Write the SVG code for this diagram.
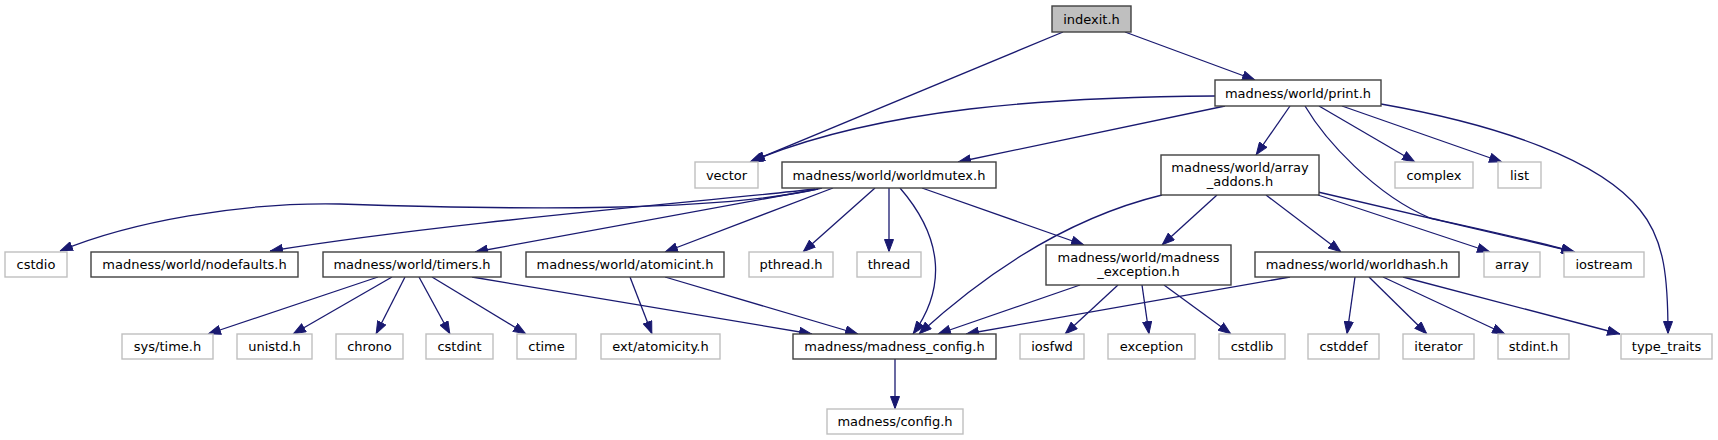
<svg xmlns="http://www.w3.org/2000/svg" width="1718" height="440" viewBox="0 0 1718 440">
<style>
.n rect{fill:#fff;stroke:#404040;stroke-width:1.4}
.g rect{fill:#fff;stroke:#bfbfbf;stroke-width:1.4}
.r rect{fill:#bfbfbf;stroke:#404040;stroke-width:1.4}
text{font-family:"DejaVu Sans","Liberation Sans",sans-serif;font-size:13px;fill:#000;text-anchor:middle}
#edges path{fill:none;stroke:#191970;stroke-width:1.3;marker-end:url(#a)}
</style>
<defs>
<marker id="a" viewBox="0 0 13 10" refX="13" refY="5" markerWidth="13" markerHeight="10" markerUnits="userSpaceOnUse" orient="auto">
<path d="M0.5,0.5 L12.5,5 L0.5,9.5 z" fill="#191970" stroke="#191970" stroke-width="1"/>
</marker>
</defs>
<rect width="1718" height="440" fill="#fff"/>
<g id="edges">
<path d="M1125,32 L1255,80"/>
<path d="M1063,32 L750,162"/>
<path d="M1215,96 C1050,97 880,108 752,161"/>
<path d="M1225,106 L958,162"/>
<path d="M1290,106 L1256,155"/>
<path d="M1305,106 C1325,140 1375,195 1430,218 C1480,229 1540,242 1574,252"/>
<path d="M1319,106 L1415,162"/>
<path d="M1342,106 L1502,162"/>
<path d="M1381,104 C1500,125 1600,160 1640,210 C1665,240 1668,280 1668,334"/>
<path d="M822,188 C720,212 520,210 340,204 C240,202 130,222 60,251"/>
<path d="M815,189 C700,202 450,222 270,251"/>
<path d="M818,189 L475,252"/>
<path d="M833,188 L665,252"/>
<path d="M875,188 L803,252"/>
<path d="M889,188 L889,252"/>
<path d="M900,188 C945,240 945,290 913,334"/>
<path d="M922,188 L1084,245"/>
<path d="M1162,195 C1080,215 1000,260 919,334"/>
<path d="M1217,195 L1162,245"/>
<path d="M1266,195 L1341,252"/>
<path d="M1318,195 L1490,252"/>
<path d="M1318,192 L1575,252"/>
<path d="M378,277 L208,334"/>
<path d="M392,277 L293,334"/>
<path d="M405,277 L376,334"/>
<path d="M419,277 L450,334"/>
<path d="M432,277 L526,334"/>
<path d="M472,277 L812,334"/>
<path d="M630,277 L652,334"/>
<path d="M665,277 L858,334"/>
<path d="M1080,285 L938,334"/>
<path d="M1118,285 L1065,334"/>
<path d="M1142,285 L1149,334"/>
<path d="M1164,285 L1231,334"/>
<path d="M1290,277 L966,334"/>
<path d="M1355,277 L1347,334"/>
<path d="M1369,277 L1427,334"/>
<path d="M1383,277 L1505,334"/>
<path d="M1403,277 L1620,334"/>
<path d="M895,359 L895,409"/>
</g>
<g id="indexit" class="r"><rect x="1052" y="6" width="79" height="26"/><text x="1091.5" y="23.5">indexit.h</text></g>
<g id="print" class="n"><rect x="1215" y="80" width="166" height="26"/><text x="1298" y="97.5">madness/world/print.h</text></g>
<g id="vector" class="g"><rect x="695" y="162" width="63" height="26"/><text x="726.5" y="179.5">vector</text></g>
<g id="worldmutex" class="n"><rect x="782" y="162" width="214" height="26"/><text x="889" y="179.5">madness/world/worldmutex.h</text></g>
<g id="array_addons" class="n"><rect x="1161" y="155" width="158" height="40"/><text x="1240" y="171.5">madness/world/array</text><text x="1240" y="185.5">_addons.h</text></g>
<g id="complex" class="g"><rect x="1395" y="162" width="78" height="26"/><text x="1434" y="179.5">complex</text></g>
<g id="list" class="g"><rect x="1498" y="162" width="43" height="26"/><text x="1519.5" y="179.5">list</text></g>
<g id="cstdio" class="g"><rect x="5" y="252" width="62" height="25"/><text x="36" y="269">cstdio</text></g>
<g id="nodefaults" class="n"><rect x="91" y="252" width="207" height="25"/><text x="194.5" y="269">madness/world/nodefaults.h</text></g>
<g id="timers" class="n"><rect x="323" y="252" width="178" height="25"/><text x="412" y="269">madness/world/timers.h</text></g>
<g id="atomicint" class="n"><rect x="526" y="252" width="198" height="25"/><text x="625" y="269">madness/world/atomicint.h</text></g>
<g id="pthread" class="g"><rect x="749" y="252" width="84" height="25"/><text x="791" y="269">pthread.h</text></g>
<g id="thread" class="g"><rect x="857" y="252" width="64" height="25"/><text x="889" y="269">thread</text></g>
<g id="madness_exception" class="n"><rect x="1046" y="245" width="185" height="40"/><text x="1138.5" y="261.5">madness/world/madness</text><text x="1138.5" y="275.5">_exception.h</text></g>
<g id="worldhash" class="n"><rect x="1255" y="252" width="204" height="25"/><text x="1357" y="269">madness/world/worldhash.h</text></g>
<g id="array" class="g"><rect x="1484" y="252" width="56" height="25"/><text x="1512" y="269">array</text></g>
<g id="iostream" class="g"><rect x="1564" y="252" width="80" height="25"/><text x="1604" y="269">iostream</text></g>
<g id="systime" class="g"><rect x="122" y="334" width="91" height="25"/><text x="167.5" y="351">sys/time.h</text></g>
<g id="unistd" class="g"><rect x="237" y="334" width="75" height="25"/><text x="274.5" y="351">unistd.h</text></g>
<g id="chrono" class="g"><rect x="336" y="334" width="67" height="25"/><text x="369.5" y="351">chrono</text></g>
<g id="cstdint" class="g"><rect x="426" y="334" width="67" height="25"/><text x="459.5" y="351">cstdint</text></g>
<g id="ctime" class="g"><rect x="517" y="334" width="59" height="25"/><text x="546.5" y="351">ctime</text></g>
<g id="atomicity" class="g"><rect x="601" y="334" width="119" height="25"/><text x="660.5" y="351">ext/atomicity.h</text></g>
<g id="madness_config" class="n"><rect x="793" y="334" width="203" height="25"/><text x="894.5" y="351">madness/madness_config.h</text></g>
<g id="iosfwd" class="g"><rect x="1020" y="334" width="64" height="25"/><text x="1052" y="351">iosfwd</text></g>
<g id="exception" class="g"><rect x="1108" y="334" width="87" height="25"/><text x="1151.5" y="351">exception</text></g>
<g id="cstdlib" class="g"><rect x="1219" y="334" width="66" height="25"/><text x="1252" y="351">cstdlib</text></g>
<g id="cstddef" class="g"><rect x="1308" y="334" width="71" height="25"/><text x="1343.5" y="351">cstddef</text></g>
<g id="iterator" class="g"><rect x="1403" y="334" width="71" height="25"/><text x="1438.5" y="351">iterator</text></g>
<g id="stdint" class="g"><rect x="1498" y="334" width="71" height="25"/><text x="1533.5" y="351">stdint.h</text></g>
<g id="type_traits" class="g"><rect x="1621" y="334" width="91" height="25"/><text x="1666.5" y="351">type_traits</text></g>
<g id="config" class="g"><rect x="827" y="409" width="136" height="25"/><text x="895" y="426">madness/config.h</text></g>
</svg>
